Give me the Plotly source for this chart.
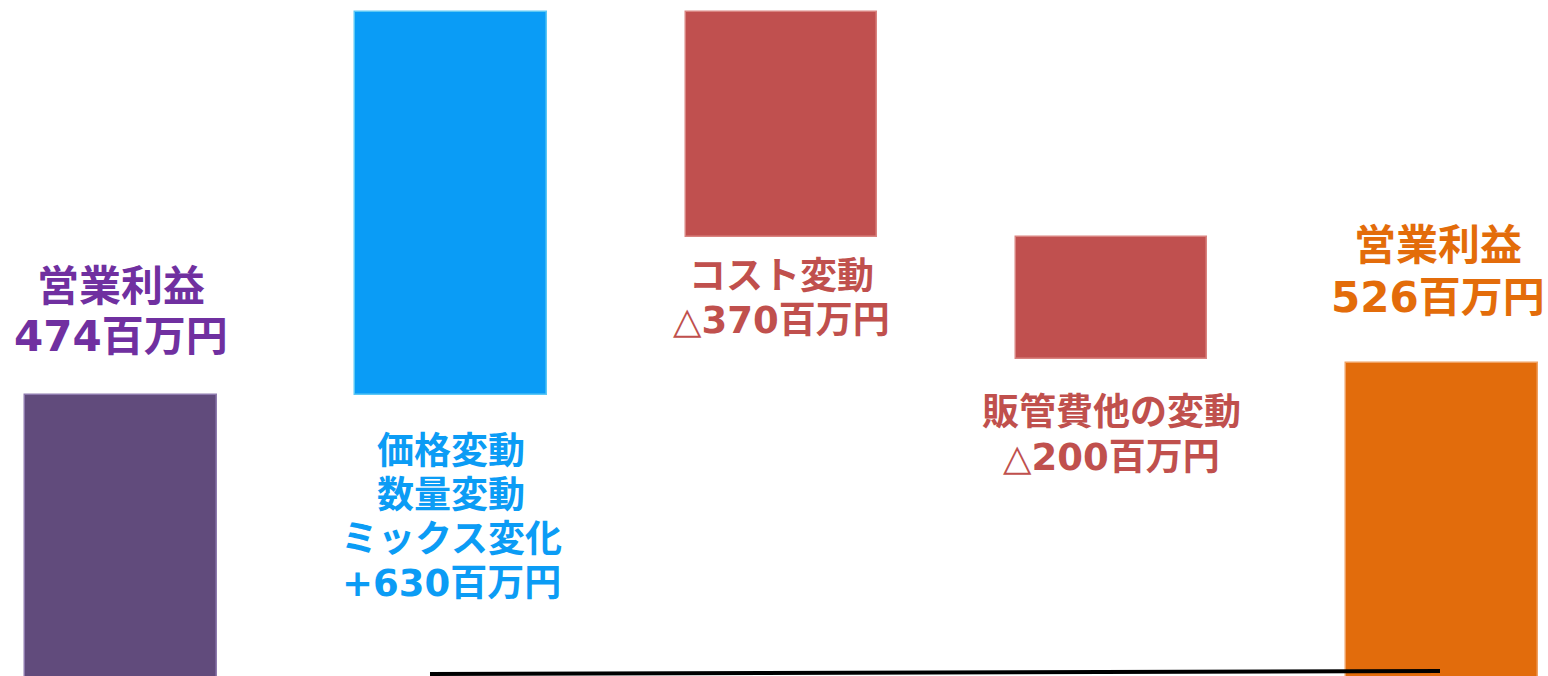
import plotly.graph_objects as go

# ---- data ----
categories = ["営業利益(前)", "価格・数量・ミックス", "コスト変動", "販管費他の変動", "営業利益(後)"]
values = [474, 630, -370, -200, 526]
measures = ["total", "relative", "relative", "relative", "total"]
label_lines = [
    ["営業利益", "474百万円"],
    ["価格変動", "数量変動", "ミックス変化", "+630百万円"],
    ["コスト変動", "△370百万円"],
    ["販管費他の変動", "△200百万円"],
    ["営業利益", "526百万円"],
]

# ---- styles ----
bar_colors = ["#614B7C", "#0A9CF6", "#C0504F", "#C0504F", "#E26C0C"]
edge_colors = ["#8E7AAE", "#5CC8F5", "#D98380", "#D98380", "#F0A060"]
text_colors = ["#7030A0", "#0B9CF5", "#C0504D", "#C0504D", "#E36C0A"]
font_sizes = [42, 37, 37, 37, 42]
label_side = ["above", "below", "below", "below", "above"]
label_gap = [58, 57, 40, 54, 66]       # px from bar edge to nearest line centre
line_step = [50, 44, 44, 45, 52]       # px between line centres
label_xshift = [0, 0, 0, 0, -4]
FONT = "DejaVu Sans, Noto Sans CJK JP, sans-serif"

# compute waterfall bases
bases, heights, tops, bottoms = [], [], [], []
running = 0
for v, m in zip(values, measures):
    if m == "total":
        b, h = 0, v
        running = v
    else:
        b, h = (running, v) if v >= 0 else (running + v, -v)
        running += v
    bases.append(b)
    heights.append(h)
    tops.append(b + h)
    bottoms.append(b)

fig = go.Figure()
fig.add_trace(go.Bar(
    x=categories, y=heights, base=bases,
    width=0.58,
    marker=dict(color=bar_colors, line=dict(color=edge_colors, width=1.5)),
    hoverinfo="skip",
))

for i, cat in enumerate(categories):
    lines = label_lines[i]
    n = len(lines)
    for j, line in enumerate(lines):
        if label_side[i] == "above":
            y = tops[i]
            shift = label_gap[i] + (n - 1 - j) * line_step[i]
        else:
            y = bottoms[i]
            shift = -(label_gap[i] + j * line_step[i])
        fig.add_annotation(
            x=cat, y=y, text="<b>" + line + "</b>", showarrow=False,
            yanchor="middle", xanchor="center", yshift=shift, xshift=label_xshift[i],
            font=dict(family=FONT, size=font_sizes[i], color=text_colors[i]),
        )

# decorative base line
fig.add_shape(type="line", xref="paper", yref="paper",
              x0=430/1548, y0=0.003, x1=1440/1548, y1=0.0075,
              line=dict(color="black", width=4))

fig.update_layout(
    width=1548, height=676,
    margin=dict(l=0, r=0, t=0, b=0),
    plot_bgcolor="white", paper_bgcolor="white",
    showlegend=False,
    bargap=0,
    xaxis=dict(visible=False, range=[-0.366, 4.321]),
    yaxis=dict(visible=False, range=[11.5, 1124]),
)

fig.write_html("out.html", config={"displayModeBar": False},
               post_script="document.body.style.margin='0';")
